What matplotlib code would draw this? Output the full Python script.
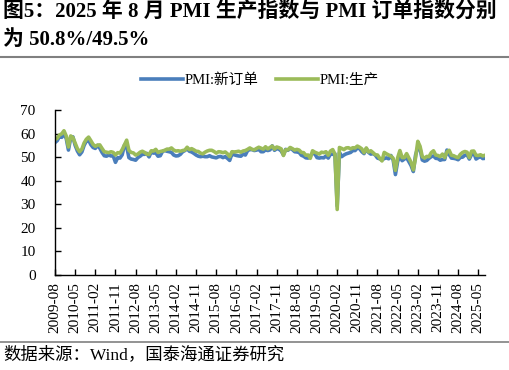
import matplotlib
matplotlib.use('Agg')
import matplotlib.pyplot as plt
import numpy as np
import pandas as pd

plt.rcParams['font.family'] = ['Liberation Serif', 'Noto Sans CJK SC']

# monthly, 2009-08 .. 2025-08
dates = pd.date_range('2009-08-01', '2025-08-01', freq='MS')

production = [
    57.5, 58.0, 59.4, 59.9, 61.2,
    59.0, 54.3, 59.0, 58.3, 56.0, 53.6, 52.3, 53.4, 56.0, 57.6, 58.5, 57.0,
    55.4, 54.6, 55.1, 55.2, 53.7, 52.3, 52.1, 51.9, 52.3, 52.0, 50.9, 51.9,
    51.7, 53.2, 55.2, 57.2, 52.9, 52.0, 51.8, 50.9, 51.3, 52.1, 52.5, 52.0,
    51.3, 51.1, 52.7, 52.6, 53.3, 52.0, 52.4, 52.6, 52.9, 53.4, 53.4, 53.9,
    53.0, 52.6, 52.7, 52.5, 52.8, 53.0, 54.2, 53.2, 53.6, 53.1, 52.5, 52.4,
    51.7, 51.4, 52.1, 52.6, 52.9, 52.9, 52.4, 51.7, 52.3, 52.2, 51.9, 52.2,
    51.4, 50.2, 52.3, 52.2, 52.3, 52.5, 52.1, 52.6, 52.8, 53.3, 53.9, 53.3,
    53.1, 53.7, 54.2, 53.8, 53.4, 54.4, 53.5, 54.1, 54.7, 53.4, 54.3, 54.0,
    53.5, 50.7, 53.1, 53.1, 54.1, 53.6, 53.0, 53.3, 53.0, 52.0, 51.9, 50.8,
    50.9, 49.5, 52.7, 52.1, 51.7, 51.3, 52.1, 51.9, 52.3, 50.8, 52.6, 53.2,
    51.3, 27.8, 54.1, 53.7, 53.2, 53.9, 54.0, 53.5, 54.0, 53.9, 54.7, 54.2,
    53.5, 51.9, 53.9, 52.2, 52.7, 51.9, 51.0, 50.9, 49.5, 48.4, 52.0, 51.4,
    50.9, 50.4, 49.5, 44.4, 49.7, 52.8, 49.8, 49.8, 51.5, 49.6, 47.8, 44.6,
    49.8, 56.7, 54.6, 50.2, 49.6, 50.3, 50.2, 51.9, 52.7, 50.9, 50.7, 50.2,
    51.3, 49.8, 52.2, 52.9, 50.8, 50.6, 50.1, 49.8, 51.2, 52.0, 52.4, 52.1,
    49.8, 52.5, 52.6, 50.8, 50.7, 51.0, 50.5, 50.8,
]

new_orders = [
    56.2, 57.0, 58.8, 58.4, 59.7,
    58.0, 53.0, 58.2, 58.6, 55.0, 52.6, 51.0, 52.2, 55.0, 56.8, 57.2, 55.3,
    54.1, 53.7, 55.0, 53.8, 52.0, 50.6, 50.4, 50.9, 50.5, 50.5, 47.8, 49.8,
    49.6, 51.0, 55.1, 54.5, 49.8, 49.2, 49.0, 48.7, 49.8, 50.4, 51.2, 51.2,
    51.6, 50.1, 52.3, 51.7, 51.8, 50.4, 50.6, 52.4, 52.8, 52.5, 52.3, 52.0,
    50.9, 50.5, 50.6, 51.2, 52.3, 52.8, 53.6, 52.5, 52.2, 51.6, 50.9, 50.4,
    50.2, 50.4, 50.2, 50.2, 50.6, 50.1, 49.9, 49.7, 50.2, 50.3, 49.8, 50.2,
    49.5, 48.6, 51.4, 51.0, 50.7, 50.5, 50.4, 51.3, 50.9, 52.8, 53.2, 53.2,
    52.8, 53.0, 53.3, 52.3, 52.3, 53.1, 52.8, 53.1, 54.8, 52.9, 53.6, 53.4,
    52.6, 51.0, 53.3, 52.9, 53.8, 53.2, 52.3, 52.2, 52.0, 50.8, 50.4, 49.7,
    49.6, 50.6, 51.6, 51.4, 49.8, 49.6, 49.8, 49.7, 50.5, 49.6, 51.3, 51.2,
    51.4, 29.3, 52.0, 50.2, 50.9, 51.4, 51.7, 52.0, 52.8, 52.8, 53.9, 53.6,
    52.3, 51.5, 53.6, 52.0, 51.3, 51.5, 50.9, 49.6, 49.3, 48.8, 49.4, 49.7,
    49.3, 50.7, 48.8, 42.6, 48.2, 50.4, 48.5, 49.2, 49.8, 48.1, 46.4, 43.9,
    50.9, 54.1, 53.6, 48.8, 48.3, 48.6, 49.5, 50.2, 50.5, 49.5, 49.4, 48.7,
    49.0, 49.0, 53.0, 51.1, 49.6, 49.5, 49.3, 48.9, 49.9, 50.0, 50.8, 51.0,
    49.2, 51.1, 51.8, 49.2, 49.8, 50.2, 49.4, 49.5,
]

BLUE = '#4a7ebb'
GREEN = '#9bbb59'

fig = plt.figure(figsize=(5.1, 3.7), dpi=100)
ax = fig.add_axes([55 / 510, 95 / 370, 430 / 510, 165 / 370])

x = np.arange(len(dates))
ax.plot(x, new_orders, color=BLUE, lw=2.6, label='PMI:新订单', solid_joinstyle='round')
ax.plot(x, production, color=GREEN, lw=2.6, label='PMI:生产', solid_joinstyle='round')

ax.set_xlim(0, len(dates) - 1)
ax.set_ylim(0, 70)
ax.set_yticks(range(0, 71, 10))
ticks = x[::9]
ax.set_xticks(ticks)
ax.set_xticklabels([dates[i].strftime('%Y-%m') for i in ticks], rotation=90)
ax.tick_params(direction='in', length=4, width=1, labelsize=11, color='black')
ax.tick_params(axis='y', pad=14)
ax.tick_params(axis='x', pad=5)
for s in ['top', 'right']:
    ax.spines[s].set_visible(False)
for s in ['left', 'bottom']:
    ax.spines[s].set_linewidth(1)

fig.legend(loc='center', bbox_to_anchor=(0.51, 0.784), ncol=2, frameon=False,
           fontsize=10.5, handlelength=2.9, columnspacing=1.2, handletextpad=0.1)

fig.text(0.006, 0.970, '图5：2025 年 8 月 PMI 生产指数与 PMI 订单指数分别',
         fontsize=15, fontweight='bold', va='center', ha='left')
fig.text(0.006, 0.893, '为 50.8%/49.5%', fontsize=15, fontweight='bold',
         va='center', ha='left')

fig.add_artist(plt.Line2D([0, 1], [1 - 57 / 370] * 2, color='#808080', lw=1.5))
fig.add_artist(plt.Line2D([0, 1], [1 - 342 / 370] * 2, color='#808080', lw=1.2))
fig.text(0.006, 1 - 355 / 370, '数据来源：Wind，国泰海通证券研究', fontsize=12.5,
         va='center', ha='left')

fig.savefig('out.png', dpi=100)
